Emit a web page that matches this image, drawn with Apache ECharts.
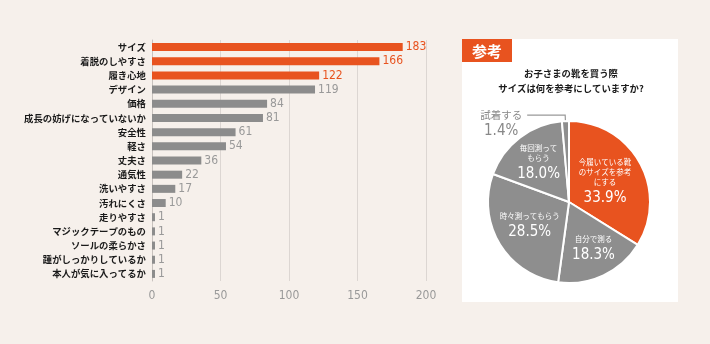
<!DOCTYPE html>
<html><head><meta charset="utf-8">
<script src="https://cdn.jsdelivr.net/npm/echarts@6/dist/echarts.min.js"></script>
<style>html,body{margin:0;padding:0;background:#f6f0eb;}#c{width:710px;height:344px;}</style>
</head><body><div id="c"></div>
<script>
const categories = ['サイズ','着脱のしやすさ','履き心地','デザイン','価格','成長の妨げになっていないか','安全性','軽さ','丈夫さ','通気性','洗いやすさ','汚れにくさ','走りやすさ','マジックテープのもの','ソールの柔らかさ','踵がしっかりしているか','本人が気に入ってるか'];
const values = [183,166,122,119,84,81,61,54,36,22,17,10,1,1,1,1,1];
const highlightCount = 3;
const xTicks = [0,50,100,150,200];

const pieNames = ['今履いている靴\nのサイズを参考\nにする','自分で測る','時々測ってもらう','毎回測って\nもらう','試着する'];
const pieValues = [33.9,18.3,28.5,18.0,1.4];
const pieTitle = ['お子さまの靴を買う際','サイズは何を参考にしていますか?'];
const badgeText = '参考';

const ORANGE = '#e8531f', GRAY = '#8c8c8c';
const JP = '"Noto Sans CJK JP", sans-serif';
const NUM = '"Liberation Sans Narrow","DejaVu Sans Condensed","Roboto",sans-serif';

const barData = values.map((v,i)=>({
  value:v,
  itemStyle:{color: i<highlightCount?ORANGE:GRAY},
  label:{color: i<highlightCount?ORANGE:'#999'}
}));

const pieLabelOffsets = [[-2,2],[6,9],[-2,3],[-4,-3]];
const pieData = pieValues.map((v,i)=>{
  const d = {name:pieNames[i], value:v, itemStyle:{color: i===0?ORANGE:'#8e8e8e'}};
  if(i<4){
    d.label = {position:'inside', formatter: '{n|{b}}\n{p|'+v.toFixed(1)+'%}'};
  } else {
    d.label = {position:'outside', color:'#888', padding:[17,0,0,0],
      formatter: '{o|{b}}\n{q|'+v.toFixed(1)+'%}'};
    d.labelLine = {show:true, length:6, length2:38, lineStyle:{color:'#999', width:1.2}};
  }
  return d;
});

const chart = echarts.init(document.getElementById('c'));
chart.setOption({
  backgroundColor:'#f6f0eb',
  animation:false,
  graphic:[
    {type:'rect', shape:{x:462,y:39,width:216,height:263}, style:{fill:'#ffffff'}, z:-10},
    {type:'rect', shape:{x:462,y:39,width:50,height:23}, style:{fill:ORANGE}, z:-5},
    {type:'text', x:487, y:51, style:{text:badgeText, fill:'#fff', font:'bold 15px '+JP, align:'center', verticalAlign:'middle'}},
    {type:'text', x:571, y:73, style:{text:pieTitle[0], fill:'#1a1a1a', font:'bold 9.4px '+JP, align:'center', verticalAlign:'middle'}},
    {type:'text', x:571, y:88, style:{text:pieTitle[1], fill:'#1a1a1a', font:'bold 9.4px '+JP, align:'center', verticalAlign:'middle'}}
  ],
  grid:{left:152, top:40, width:274, height:241, containLabel:false},
  xAxis:{type:'value', min:0, max:200, interval:50,
    axisLine:{show:false}, axisTick:{show:false},
    splitLine:{lineStyle:{color:'#dcd6d2', width:1}},
    axisLabel:{color:'#999', fontFamily:NUM, fontSize:12, margin:9,
      customValues: xTicks}
  },
  yAxis:{type:'category', data:categories, inverse:true,
    axisLine:{lineStyle:{color:'#c8c2be'}}, axisTick:{show:false},
    axisLabel:{color:'#1a1a1a', fontFamily:JP, fontWeight:'bold', fontSize:9.4, margin:6}
  },
  series:[
    {type:'bar', data:barData, barWidth:8, barMinHeight:3, z:3,
      label:{show:true, position:'right', distance:3, fontFamily:NUM, fontSize:12}
    },
    {type:'pie', center:[569,202], radius:81, startAngle:90, clockwise:true,
      avoidLabelOverlap:false,
      itemStyle:{borderColor:'#fff', borderWidth:2},
      label:{
        rich:{
          n:{color:'#fff', fontFamily:JP, fontSize:7.5, lineHeight:10, align:'center'},
          p:{color:'#fff', fontFamily:NUM, fontSize:15, lineHeight:22, align:'center'},
          o:{color:'#888', fontFamily:JP, fontSize:10.5, lineHeight:15, align:'center'},
          q:{color:'#888', fontFamily:NUM, fontSize:15, lineHeight:18, align:'center'}
        }
      },
      labelLayout:function(p){
        const o = pieLabelOffsets[p.dataIndex];
        if(o) return {dx:o[0], dy:o[1]};
        return {};
      },
      data:pieData
    }
  ]
});
</script></body></html>
